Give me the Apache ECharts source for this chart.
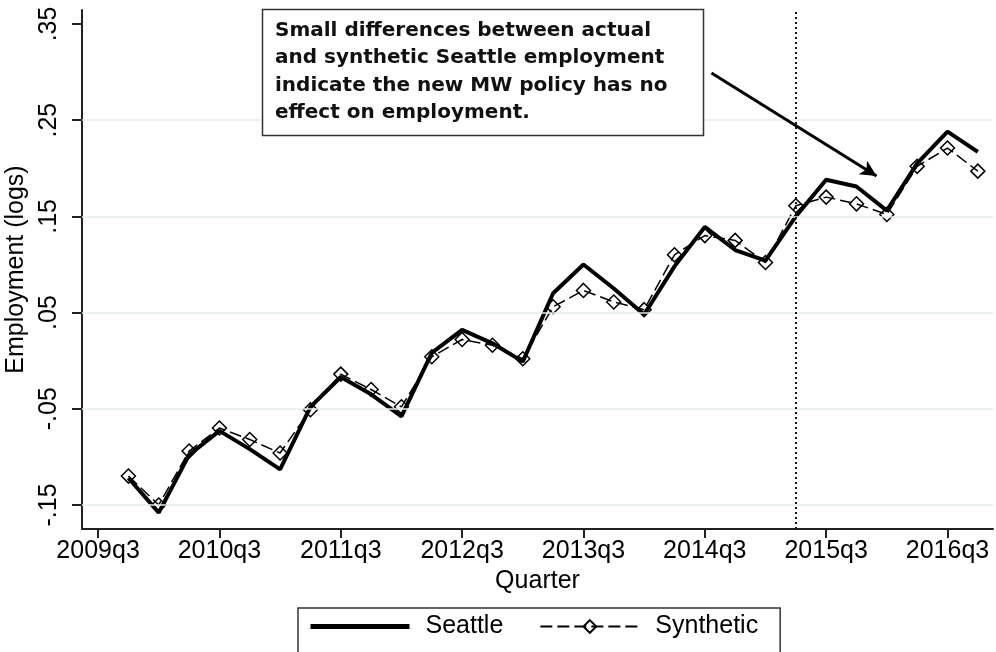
<!DOCTYPE html>
<html>
<head>
<meta charset="utf-8">
<script src="https://cdn.jsdelivr.net/npm/echarts@6/dist/echarts.min.js"></script>
<style>
html, body { margin: 0; padding: 0; background: #fff; }
#chart { width: 996px; height: 652px; }
</style>
</head>
<body>
<div id="chart"></div>
<script>
// quarters are placed on a numeric axis: 0 = 2009q3
var quarters = ['2009q4', '2010q1', '2010q2', '2010q3', '2010q4', '2011q1', '2011q2', '2011q3',
    '2011q4', '2012q1', '2012q2', '2012q3', '2012q4', '2013q1', '2013q2', '2013q3', '2013q4',
    '2014q1', '2014q2', '2014q3', '2014q4', '2015q1', '2015q2', '2015q3', '2015q4', '2016q1',
    '2016q2', '2016q3', '2016q4'];
var seattle = [-0.122, -0.158, -0.098, -0.073, -0.092, -0.113, -0.048, -0.017, -0.035, -0.058,
    0.008, 0.032, 0.018, -0.001, 0.070, 0.100, 0.075, 0.048, 0.098, 0.139, 0.115, 0.104,
    0.150, 0.188, 0.181, 0.156, 0.205, 0.238, 0.217];
var synthetic = [-0.120, -0.150, -0.094, -0.070, -0.082, -0.096, -0.051, -0.014, -0.030, -0.048,
    0.004, 0.022, 0.016, 0.002, 0.056, 0.073, 0.061, 0.053, 0.110, 0.130, 0.125, 0.102,
    0.161, 0.170, 0.163, 0.152, 0.202, 0.221, 0.197];

var xTickLabels = ['2009q3', '2010q3', '2011q3', '2012q3', '2013q3', '2014q3', '2015q3', '2016q3'];
var yTicks = [-0.15, -0.05, 0.05, 0.15, 0.25, 0.35];
var yTickLabels = ['-.15', '-.05', '.05', '.15', '.25', '.35'];
var gridValues = [-0.15, -0.05, 0.05, 0.15, 0.25];
var policyQuarter = '2015q2';
var arrowFrom = [20.22, 0.299];
var arrowTo = [25.66, 0.192];
var note = ['Small differences between actual',
    'and synthetic Seattle employment',
    'indicate the new MW policy has no',
    'effect on employment.'];

function qIndex(q) {
    var year = parseInt(q.slice(0, 4), 10);
    var qq = parseInt(q.slice(5), 10);
    return (year - 2009) * 4 + (qq - 3);
}

var xTicks = xTickLabels.map(qIndex);
var seattleData = quarters.map(function (q, i) { return [qIndex(q), seattle[i]]; });
var syntheticData = quarters.map(function (q, i) { return [qIndex(q), synthetic[i]]; });

var font = '"Liberation Sans", Arial, sans-serif';

var myChart = echarts.init(document.getElementById('chart'));

var marks = gridValues.map(function (v) {
    return { yAxis: v, lineStyle: { color: '#e5ecef', width: 1.5, type: 'solid' } };
});
marks.push({ xAxis: qIndex(policyQuarter), lineStyle: { color: '#111', width: 2, type: [2, 3] } });
marks.push([
    { coord: arrowFrom, symbol: 'none' },
    { coord: arrowTo, symbol: 'arrow', symbolSize: [12, 16], lineStyle: { color: '#000', width: 3, type: 'solid' } }
]);

var option = {
    backgroundColor: '#fff',
    animation: false,
    grid: { left: 82, right: 3, top: 10, bottom: 123, outerBoundsMode: 'none' },
    xAxis: {
        type: 'value',
        min: -0.53,
        max: 29.5,
        name: 'Quarter',
        nameLocation: 'middle',
        nameGap: 37,
        nameTextStyle: { fontSize: 25, color: '#000', fontFamily: font },
        axisLine: { onZero: false, lineStyle: { color: '#222', width: 2 } },
        axisTick: { customValues: xTicks, length: 9, lineStyle: { color: '#222', width: 2 } },
        axisLabel: {
            customValues: xTicks,
            margin: 10,
            fontSize: 25,
            color: '#000',
            fontFamily: font,
            formatter: function (v) { return xTickLabels[xTicks.indexOf(Math.round(v))]; }
        },
        splitLine: { show: false }
    },
    yAxis: {
        type: 'value',
        min: -0.175,
        max: 0.3645,
        name: 'Employment (logs)',
        nameLocation: 'middle',
        nameGap: 38,
        nameTextStyle: { fontSize: 25, color: '#000', fontFamily: font },
        axisLine: { show: true, onZero: false, lineStyle: { color: '#222', width: 2 } },
        axisTick: { show: true, customValues: yTicks, length: 10, lineStyle: { color: '#222', width: 2 } },
        axisLabel: {
            customValues: yTicks,
            rotate: 90,
            margin: 20,
            fontSize: 25,
            color: '#000',
            fontFamily: font,
            formatter: function (v) {
                for (var i = 0; i < yTicks.length; i++) {
                    if (Math.abs(yTicks[i] - v) < 1e-6) return yTickLabels[i];
                }
                return '';
            }
        },
        splitLine: { show: false }
    },
    legend: {
        data: [
            { name: 'Seattle', itemStyle: { opacity: 0 }, lineStyle: { width: 5 } },
            { name: 'Synthetic' }
        ],
        left: 298,
        top: 608,
        borderColor: '#333',
        borderWidth: 1.5,
        padding: [6, 22, 20, 10],
        itemWidth: 99,
        itemHeight: 16,
        itemGap: 36,
        textStyle: { fontSize: 25, color: '#000', fontFamily: font, padding: [0, 0, 0, 11] }
    },
    graphic: [
        {
            type: 'rect',
            z: 100,
            shape: { x: 262.5, y: 9.5, width: 441, height: 126 },
            style: { fill: '#fff', stroke: '#333', lineWidth: 1.5 }
        },
        {
            type: 'text',
            z: 101,
            x: 275,
            y: 17,
            style: {
                text: note.join('\n'),
                font: 'bold 20px "DejaVu Sans", sans-serif',
                lineHeight: 27.5,
                fill: '#111'
            }
        }
    ],
    series: [
        {
            name: 'marks',
            type: 'line',
            data: [],
            z: 1,
            silent: true,
            markLine: {
                silent: true,
                symbol: ['none', 'none'],
                label: { show: false },
                emphasis: { disabled: true },
                data: marks
            }
        },
        {
            name: 'Seattle',
            type: 'line',
            data: seattleData,
            z: 3,
            symbol: 'none',
            color: '#000',
            lineStyle: { color: '#000', width: 4 }
        },
        {
            name: 'Synthetic',
            type: 'line',
            data: syntheticData,
            z: 4,
            symbol: 'diamond',
            symbolSize: 14,
            color: '#000',
            itemStyle: { color: 'rgba(255,255,255,0)', borderColor: '#000', borderWidth: 1.5 },
            lineStyle: { color: '#000', width: 1.5, type: [12, 5] }
        }
    ]
};

myChart.setOption(option);
</script>
</body>
</html>
